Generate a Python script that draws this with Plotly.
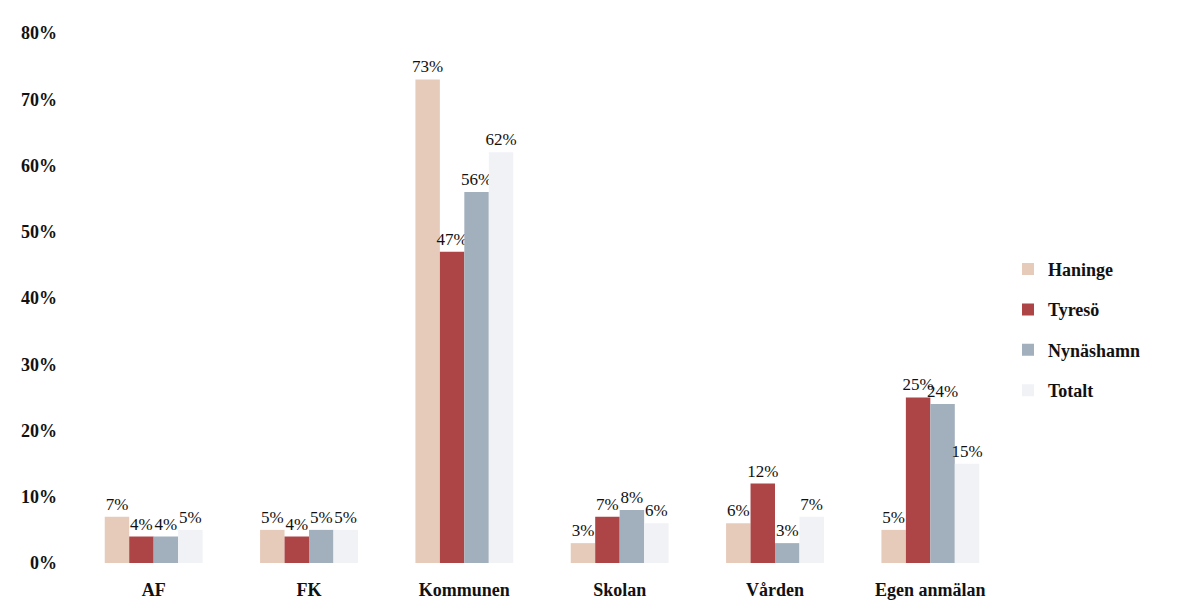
import plotly.graph_objects as go

categories = ["AF", "FK", "Kommunen", "Skolan", "Vården", "Egen anmälan"]
series_names = ["Haninge", "Tyresö", "Nynäshamn", "Totalt"]
haninge = [7, 5, 73, 3, 6, 5]
tyreso = [4, 4, 47, 7, 12, 25]
nynashamn = [4, 5, 56, 8, 3, 24]
totalt = [5, 5, 62, 6, 7, 15]
y_ticks = [0, 10, 20, 30, 40, 50, 60, 70, 80]

series_values = [haninge, tyreso, nynashamn, totalt]
colors = ["#e6cbbb", "#ad4546", "#a2afbc", "#f1f2f6"]

FONT = "Liberation Serif"

fig = go.Figure()
for name, vals, col in zip(series_names, series_values, colors):
    fig.add_trace(go.Bar(
        x=categories, y=vals, name=name,
        marker=dict(color=col, line=dict(width=0)),
        text=[f"{v}%" for v in vals],
        textposition="outside",
        constraintext="none",
        cliponaxis=False,
        textfont=dict(family=FONT, size=17, color="#111111"),
        legendgroup=name,
    ))

fig.update_layout(
    width=1181, height=616,
    margin=dict(l=68, r=181, t=25, b=61),
    paper_bgcolor="white", plot_bgcolor="white",
    barmode="group", bargap=0.37, bargroupgap=0,
    font=dict(family=FONT, size=17, color="#111111"),
    showlegend=True,
    legend=dict(
        x=1.0, y=0.44, xanchor="left", yanchor="middle",
        font=dict(family=FONT, size=18, color="#111111", weight="bold"),
        tracegroupgap=14, itemwidth=30,
        bgcolor="rgba(0,0,0,0)",
    ),
)
fig.update_yaxes(
    range=[0, 80], tickvals=y_ticks, ticktext=[f"{t}%" for t in y_ticks],
    showgrid=False, zeroline=False, showline=False, ticks="",
    tickfont=dict(family=FONT, size=18, color="#111111", weight="bold"),
    ticklabelstandoff=18,
)
fig.update_xaxes(
    showgrid=False, showline=False, ticks="",
    tickfont=dict(family=FONT, size=18, color="#111111", weight="bold"),
    ticklabelstandoff=14,
)

fig.write_html("out.html")
